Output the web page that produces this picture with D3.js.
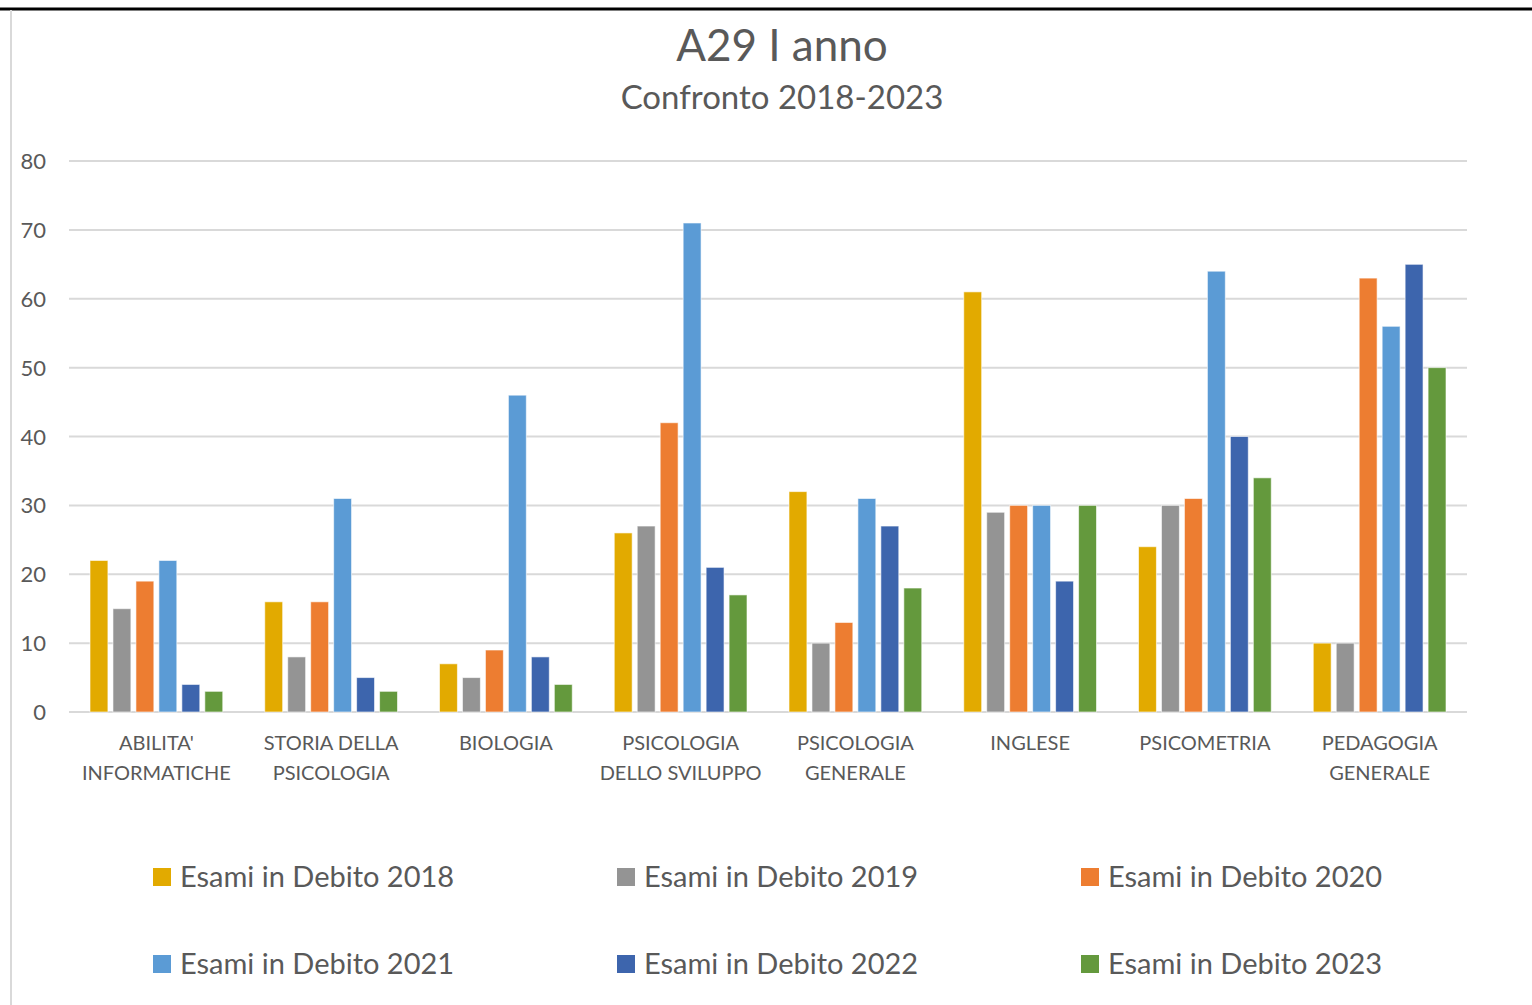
<!DOCTYPE html>
<html>
<head>
<meta charset="utf-8">
<script src="https://cdn.jsdelivr.net/npm/d3@7"></script>
<style>
  body { margin: 0; background: #fff; }
  svg text { font-family: Lato, "Open Sans", sans-serif; fill: #595959; }
</style>
</head>
<body>
<div id="chart"></div>
<script>
var categories = [
    ["ABILITA'", "INFORMATICHE"],
    ["STORIA DELLA", "PSICOLOGIA"],
    ["BIOLOGIA"],
    ["PSICOLOGIA", "DELLO SVILUPPO"],
    ["PSICOLOGIA", "GENERALE"],
    ["INGLESE"],
    ["PSICOMETRIA"],
    ["PEDAGOGIA", "GENERALE"]
];
var seriesNames = ["Esami in Debito 2018", "Esami in Debito 2019", "Esami in Debito 2020",
    "Esami in Debito 2021", "Esami in Debito 2022", "Esami in Debito 2023"];
var seriesColors = ["#E2AA00", "#949494", "#ED7D31", "#5B9BD5", "#3D65AD", "#64993D"];
var values2018 = [22, 16, 7, 26, 32, 61, 24, 10];
var values2019 = [15, 8, 5, 27, 10, 29, 30, 10];
var values2020 = [19, 16, 9, 42, 13, 30, 31, 63];
var values2021 = [22, 31, 46, 71, 31, 30, 64, 56];
var values2022 = [4, 5, 8, 21, 27, 19, 40, 65];
var values2023 = [3, 3, 4, 17, 18, 30, 34, 50];
var yTicks = [0, 10, 20, 30, 40, 50, 60, 70, 80];

var allValues = [values2018, values2019, values2020, values2021, values2022, values2023];

var width = 1532, height = 1005;
var svg = d3.select("#chart").append("svg")
    .attr("width", width)
    .attr("height", height);

// frame lines
svg.append("line").attr("x1", 0).attr("x2", width).attr("y1", 9).attr("y2", 9)
    .attr("stroke", "#000").attr("stroke-width", 3);
svg.append("line").attr("x1", 11).attr("x2", 11).attr("y1", 10).attr("y2", height)
    .attr("stroke", "#d9d9d9").attr("stroke-width", 2);

svg.append("text").attr("x", 782).attr("y", 61).attr("text-anchor", "middle")
    .attr("font-size", "44px").text("A29 I anno");
svg.append("text").attr("x", 782).attr("y", 109).attr("text-anchor", "middle")
    .attr("font-size", "33px").text("Confronto 2018-2023");

var x0 = d3.scaleBand().domain(d3.range(categories.length)).range([69, 1467]);
var x1 = d3.scaleBand().domain(d3.range(seriesNames.length))
    .range([21, x0.bandwidth() - 21]).paddingInner(0.22);
var y = d3.scaleLinear().domain([0, 80]).range([712, 161]);

// gridlines
svg.append("g").selectAll("line")
    .data(yTicks)
    .enter().append("line")
    .attr("x1", 69).attr("x2", 1467)
    .attr("y1", function(d) { return y(d); })
    .attr("y2", function(d) { return y(d); })
    .attr("stroke", "#d9d9d9")
    .attr("stroke-width", 2);

svg.append("g").selectAll("text")
    .data(yTicks)
    .enter().append("text")
    .attr("x", 46)
    .attr("y", function(d) { return y(d) + 8; })
    .attr("text-anchor", "end")
    .attr("font-size", "22px")
    .text(function(d) { return d; });

// bars
var group = svg.append("g").selectAll("g")
    .data(categories)
    .enter().append("g")
    .attr("transform", function(d, i) { return "translate(" + x0(i) + ",0)"; });

group.selectAll("rect")
    .data(function(d, i) {
        return allValues.map(function(s, j) { return {series: j, value: s[i]}; });
    })
    .enter().append("rect")
    .attr("x", function(d) { return x1(d.series); })
    .attr("y", function(d) { return y(d.value); })
    .attr("width", x1.bandwidth())
    .attr("height", function(d) { return y(0) - y(d.value); })
    .attr("fill", function(d) { return seriesColors[d.series]; })
    .attr("stroke", "#fff")
    .attr("stroke-opacity", 0.6)
    .attr("stroke-width", 1);

// category labels
group.each(function(lines) {
    var g = d3.select(this);
    lines.forEach(function(l, k) {
        g.append("text")
            .attr("x", x0.bandwidth() / 2)
            .attr("y", 750 + k * 30)
            .attr("text-anchor", "middle")
            .attr("font-size", "20px")
            .text(l);
    });
});

// legend
var legendX = [153, 617, 1081];
var legendY = [877, 964];
var legend = svg.append("g").selectAll("g")
    .data(seriesNames)
    .enter().append("g")
    .attr("transform", function(d, i) {
        return "translate(" + legendX[i % 3] + "," + legendY[Math.floor(i / 3)] + ")";
    });
legend.append("rect")
    .attr("x", 0).attr("y", -9)
    .attr("width", 18).attr("height", 18)
    .attr("fill", function(d, i) { return seriesColors[i]; });
legend.append("text")
    .attr("x", 27).attr("y", 10)
    .attr("font-size", "29px")
    .text(function(d) { return d; });
</script>
</body>
</html>
